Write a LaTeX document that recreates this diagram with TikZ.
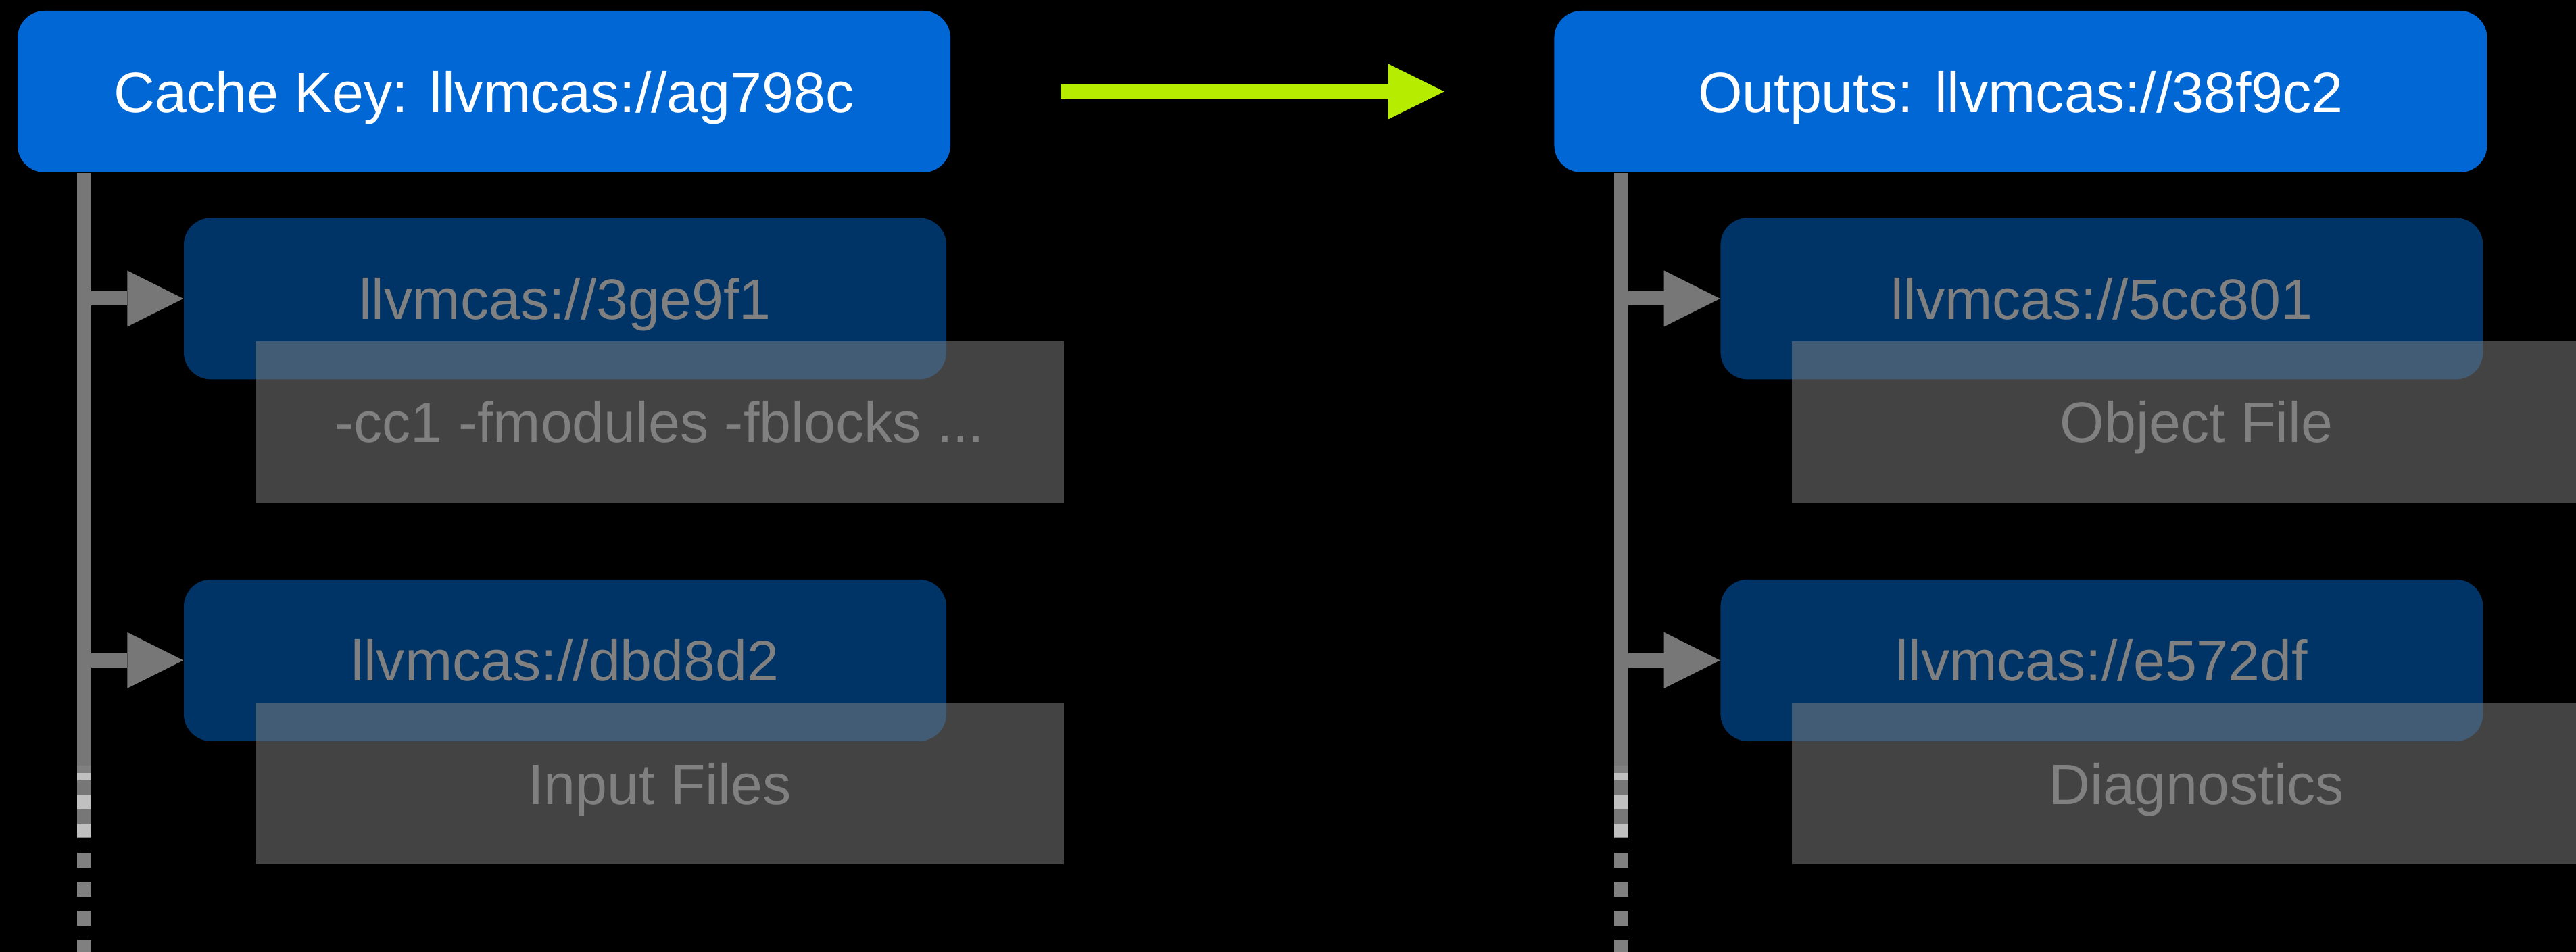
\documentclass[tikz,border=0pt]{standalone}
\usepackage{fontspec}
\setmainfont{Liberation Sans}
\usetikzlibrary{positioning, arrows.meta}

\definecolor{keyblue}{RGB}{0,103,212}
\definecolor{hashblue}{RGB}{0,51,102}
\definecolor{spinegray}{RGB}{119,119,119}
\definecolor{fadegray}{RGB}{128,128,128}
\definecolor{blobgray}{RGB}{134,134,134}
\definecolor{dashlight}{RGB}{192,192,192}
\definecolor{flowgreen}{RGB}{182,236,0}

\tikzset{
  every node/.style={font=\fontsize{24}{28}\selectfont, inner sep=0pt, text height=0.61cm, text depth=0pt},
  rootbox/.style={rectangle, rounded corners=0.4cm, fill=keyblue, text=white, minimum width=13.8cm, minimum height=2.39cm},
  hashbox/.style={rectangle, rounded corners=0.4cm, fill=hashblue, text=fadegray, minimum width=11.28cm, minimum height=2.39cm},
  blobbox/.style={rectangle, fill=blobgray, fill opacity=0.5, text opacity=1, text=fadegray, minimum width=11.96cm, minimum height=2.39cm},
  spine/.style={draw=spinegray, line width=0.21cm},
  spinedash/.style={draw=fadegray, line width=0.21cm, dash pattern=on 0.215cm off 0.215cm},
  branch/.style={draw=spinegray, fill=spinegray, line width=0.21cm, -{Triangle[length=0.83cm, width=0.83cm, line width=0pt]}},
  flow/.style={draw=flowgreen, fill=flowgreen, line width=0.22cm, shorten <=1.62cm, shorten >=1.62cm, -{Triangle[length=0.83cm, width=0.82cm, line width=0pt]}}
}

\begin{document}
\begin{tikzpicture}
  \fill[black] (0,0) rectangle (38.11,-14.09);
  \clip (0,0) rectangle (38.11,-14.09);

  % the cache key and what it maps to
  \node[rootbox] (key) at (7.16,-1.355) {Cache Key: llvmcas://ag798c};
  \node[rootbox, right=8.92cm of key] (out) {Outputs: llvmcas://38f9c2};
  \draw[flow] (key) -- (out);

  % key side
  \node[hashbox, below right=0.66cm and 2.46cm of key.south west] (cmd) {llvmcas://3ge9f1};
  \node[blobbox, below right=-0.58cm and 1.06cm of cmd.south west] (cmdblob) {-cc1 -fmodules -fblocks ...};
  \node[hashbox, below=2.95cm of cmd] (inputs) {llvmcas://dbd8d2};
  \node[blobbox, below right=-0.58cm and 1.06cm of inputs.south west] (inputsblob) {Input Files};

  % output side
  \node[hashbox, below right=0.66cm and 2.46cm of out.south west] (obj) {llvmcas://5cc801};
  \node[blobbox, below right=-0.58cm and 1.06cm of obj.south west] (objblob) {Object File};
  \node[hashbox, below=2.95cm of obj] (diag) {llvmcas://e572df};
  \node[blobbox, below right=-0.58cm and 1.06cm of diag.south west] (diagblob) {Diagnostics};

  % spines with their branches, fading out into dashes
  \foreach \root/\first/\second in {key/cmd/inputs, out/obj/diag} {
    \coordinate (\root top) at ([xshift=0.995cm]\root.south west);
    \coordinate (\root cut) at (\root top |- 0,-12.38);
    \draw[spine] (\root top) -- (\root cut);
    \draw[branch] (\root top |- \first.west) -- (\first.west);
    \draw[branch] (\root top |- \second.west) -- (\second.west);
    \draw[spinedash] (\root top |- 0,-11.33) -- (\root top |- 0,-14.09);
    \begin{scope}
      \clip (0,-11.44) rectangle (38.11,-12.38);
      \draw[spinedash, draw=dashlight] (\root top |- 0,-11.33) -- (\root top |- 0,-14.09);
    \end{scope}
  }
\end{tikzpicture}
\end{document}
